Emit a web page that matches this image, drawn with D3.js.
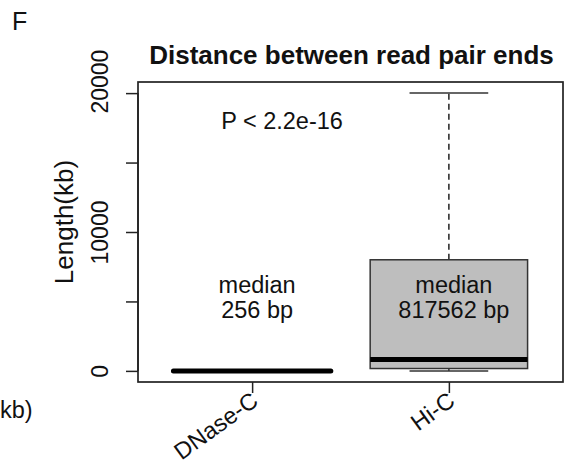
<!DOCTYPE html>
<html>
<head>
<meta charset="utf-8">
<script src="https://cdn.jsdelivr.net/npm/d3@7"></script>
<style>
  body { margin: 0; background: #fff; }
  svg { display: block; }
  text { font-family: "Liberation Sans", Arial, sans-serif; fill: #111; }
</style>
</head>
<body>
<svg id="chart" width="566" height="466"></svg>
<script>
// ---- data (values in kb) ----
const categories = ["DNase-C", "Hi-C"];
const whiskerLow  = [0.05, 0];
const q1          = [0.15, 170];
const medians     = [0.256, 817.562];
const q3          = [0.45, 8000];
const whiskerHigh = [0.9, 20000];
const fills       = ["#bebebe", "#bebebe"];
const medianLabels = [["median", "256 bp"], ["median", "817562 bp"]];
const yTicks = [0, 5000, 10000, 15000, 20000];
const yTickLabels = ["0", "", "10000", "", "20000"];
const title = "Distance between read pair ends";
const yLabel = "Length(kb)";
const pText = "P < 2.2e-16";
const panelLetter = "F";

const svg = d3.select("#chart");
const pLeft = 138, pRight = 563, pTop = 82, pBottom = 382;

const y = d3.scaleLinear().domain([-800, 20800]).range([pBottom, pTop]);
const x = d3.scaleLinear().domain([0.42, 2.58]).range([pLeft, pRight]);
const unit = x(2) - x(1);
const boxW = 0.8 * unit;
const fs = 23.5;

// panel letter
svg.append("text").attr("x", 12).attr("y", 30).style("font-size", "25px").text(panelLetter);
// fragment from neighbouring panel
svg.append("text").attr("x", 0).attr("y", 418).style("font-size", fs + "px").text("kb)");

// title
svg.append("text")
  .attr("x", (pLeft + pRight) / 2 + 1).attr("y", 64)
  .attr("text-anchor", "middle")
  .style("font-size", "26px").style("font-weight", "bold")
  .text(title);

// boxes
categories.forEach((c, i) => {
  const cx = x(i + 1);
  const g = svg.append("g");
  g.append("line").attr("x1", cx).attr("x2", cx)
    .attr("y1", y(q3[i])).attr("y2", y(whiskerHigh[i]))
    .attr("stroke", "#222").attr("stroke-width", 1.5).attr("stroke-dasharray", "6,4");
  g.append("line").attr("x1", cx).attr("x2", cx)
    .attr("y1", y(q1[i])).attr("y2", y(whiskerLow[i]))
    .attr("stroke", "#333").attr("stroke-width", 1.5).attr("stroke-dasharray", "6,4");
  [whiskerHigh[i], whiskerLow[i]].forEach(v => {
    g.append("line").attr("x1", cx - boxW / 4).attr("x2", cx + boxW / 4)
      .attr("y1", y(v)).attr("y2", y(v))
      .attr("stroke", "#333").attr("stroke-width", 1.5);
  });
  g.append("rect")
    .attr("x", cx - boxW / 2).attr("width", boxW)
    .attr("y", y(q3[i])).attr("height", Math.max(0.01, y(q1[i]) - y(q3[i])))
    .attr("fill", fills[i]).attr("stroke", "#333").attr("stroke-width", 1.5);
  g.append("line").attr("x1", cx - boxW / 2).attr("x2", cx + boxW / 2)
    .attr("y1", y(medians[i])).attr("y2", y(medians[i]))
    .attr("stroke", "#000").attr("stroke-width", 5).attr("stroke-linecap", i === 0 ? "round" : "butt");

  const t = svg.append("text").attr("text-anchor", "middle").style("font-size", fs + "px");
  t.append("tspan").attr("x", cx + 5).attr("y", 293).text(medianLabels[i][0]);
  t.append("tspan").attr("x", cx + 5).attr("y", 318).text(medianLabels[i][1]);
});

// frame
svg.append("rect").attr("x", pLeft).attr("y", pTop)
  .attr("width", pRight - pLeft).attr("height", pBottom - pTop)
  .attr("fill", "none").attr("stroke", "#222").attr("stroke-width", 1.7);

// y axis
const yAxis = svg.append("g").attr("transform", `translate(${pLeft},0)`)
  .call(d3.axisLeft(y).tickValues(yTicks).tickSize(12).tickFormat((d, i) => yTickLabels[i]));
yAxis.select(".domain").attr("stroke", "#222").attr("stroke-width", 1.5)
  .attr("d", `M0,${y(0)}V${y(20000)}`);
yAxis.selectAll(".tick line").attr("stroke", "#222").attr("stroke-width", 1.5);
yAxis.selectAll(".tick text")
  .attr("fill", "#111")
  .style("font-size", "23px").style("font-family", "'Liberation Sans', Arial, sans-serif")
  .attr("x", 0).attr("dy", 0)
  .attr("text-anchor", "middle")
  .attr("transform", (d) => `translate(-30,${d === 20000 ? -12 : 0}) rotate(-90)`);

// y label
svg.append("text")
  .attr("transform", `translate(73,222) rotate(-90)`)
  .attr("text-anchor", "middle").style("font-size", "26px").text(yLabel);

// x axis
const xAxis = svg.append("g").attr("transform", `translate(0,${pBottom})`)
  .call(d3.axisBottom(x).tickValues([1, 2]).tickSize(11).tickFormat((d) => categories[d - 1]));
xAxis.select(".domain").remove();
xAxis.selectAll(".tick line").attr("stroke", "#222").attr("stroke-width", 1.5);
xAxis.selectAll(".tick text")
  .attr("fill", "#111")
  .style("font-size", fs + "px").style("font-family", "'Liberation Sans', Arial, sans-serif")
  .attr("text-anchor", "end").attr("y", 0).attr("dy", 0)
  .attr("transform", "translate(7,22) rotate(-36)");

// p value
svg.append("text").attr("x", 282).attr("y", 129)
  .attr("text-anchor", "middle").style("font-size", fs + "px").text(pText);
</script>
</body>
</html>
